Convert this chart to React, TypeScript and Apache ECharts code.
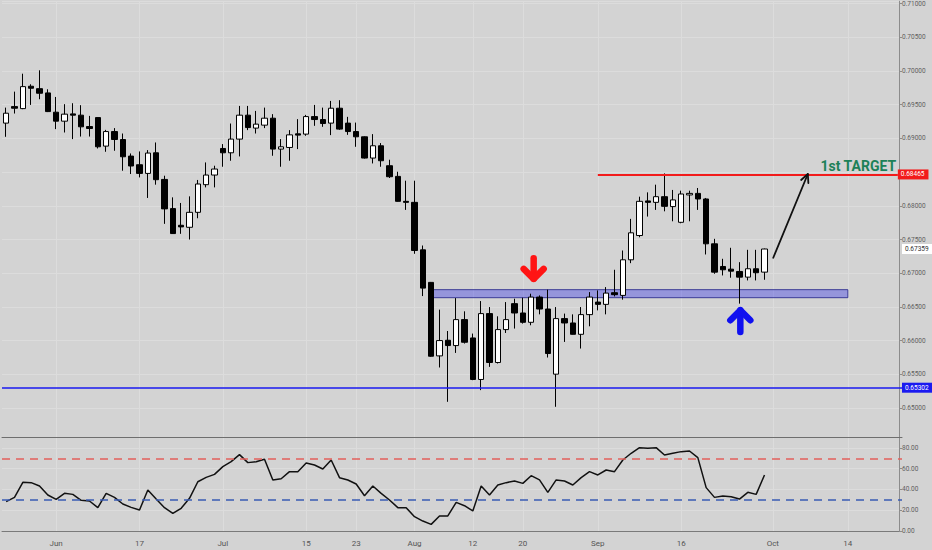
import React, { useEffect, useRef } from "react";
import * as echarts from "echarts";

// ---- Data (daily candles) ----
const opens = [
  0.69226, 0.69471, 0.69441, 0.69773, 0.69737, 0.69674, 0.69388, 0.69255, 0.69363, 0.69344,
  0.69175, 0.69308, 0.68885, 0.69101, 0.68983, 0.68737, 0.68609, 0.6848, 0.68786, 0.68391,
  0.67958, 0.67711, 0.67681, 0.67903, 0.68313, 0.68456, 0.6885, 0.68786, 0.68989, 0.69344,
  0.69152, 0.69196, 0.69299, 0.68841, 0.68865, 0.69067, 0.69063, 0.69323, 0.69279, 0.69226,
  0.69447, 0.69226, 0.69101, 0.69023, 0.68708, 0.6889, 0.68594, 0.68436, 0.68066, 0.68051,
  0.67347, 0.66864, 0.65774, 0.66006, 0.65927, 0.66312, 0.6604, 0.65424, 0.66401, 0.65676,
  0.66164, 0.66549, 0.6641, 0.66272, 0.66646, 0.66469, 0.65503, 0.66327, 0.66262, 0.66094,
  0.66386, 0.66572, 0.66538, 0.66711, 0.66671, 0.67199, 0.67559, 0.68072, 0.68051, 0.68135,
  0.67988, 0.67755, 0.68161, 0.68184, 0.68101, 0.67436, 0.671, 0.6706, 0.67026, 0.66942,
  0.67066, 0.67016,
];
const highs = [
  0.69456, 0.69693, 0.69959, 0.69802, 0.70009, 0.69728, 0.69614, 0.69507, 0.69521, 0.69492,
  0.69333, 0.6931, 0.69126, 0.69152, 0.69072, 0.68776, 0.68806, 0.68826, 0.68939, 0.68446,
  0.68125, 0.68042, 0.6814, 0.68383, 0.68643, 0.68594, 0.68915, 0.6922, 0.69481, 0.69481,
  0.69407, 0.69456, 0.69359, 0.68989, 0.69122, 0.69285, 0.69348, 0.69496, 0.69456, 0.69555,
  0.69566, 0.69319, 0.69234, 0.6903, 0.69063, 0.6893, 0.68683, 0.68505, 0.68372, 0.68372,
  0.67411, 0.6687, 0.6646, 0.66143, 0.66631, 0.66435, 0.66105, 0.66587, 0.66498, 0.66361,
  0.66572, 0.66622, 0.66637, 0.66696, 0.66671, 0.66756, 0.66498, 0.66401, 0.6639, 0.66498,
  0.6672, 0.66745, 0.66794, 0.67051, 0.67337, 0.67806, 0.68135, 0.68199, 0.68313, 0.6848,
  0.68235, 0.68224, 0.68224, 0.68264, 0.68116, 0.6751, 0.67214, 0.67377, 0.67164, 0.67347,
  0.67347, 0.67365,
];
const lows = [
  0.69023, 0.69368, 0.69433, 0.69496, 0.6958, 0.6939, 0.69137, 0.69087, 0.68989, 0.69027,
  0.69027, 0.6885, 0.68801, 0.68816, 0.6852, 0.68471, 0.68421, 0.68116, 0.68313, 0.67732,
  0.67584, 0.67584, 0.675, 0.67815, 0.68273, 0.68273, 0.68579, 0.68668, 0.68732, 0.69122,
  0.69072, 0.69152, 0.68742, 0.68579, 0.68668, 0.68841, 0.69038, 0.69186, 0.69171, 0.69048,
  0.69126, 0.69052, 0.68875, 0.687, 0.68628, 0.68579, 0.68412, 0.68062, 0.67939, 0.67288,
  0.66661, 0.6576, 0.65602, 0.65093, 0.65818, 0.65957, 0.65414, 0.65266, 0.65611, 0.65661,
  0.66114, 0.66179, 0.66253, 0.66228, 0.6639, 0.6575, 0.65019, 0.65981, 0.6609, 0.65883,
  0.66213, 0.66449, 0.6639, 0.66656, 0.66608, 0.67149, 0.67533, 0.6784, 0.67939, 0.67918,
  0.6777, 0.67741, 0.6777, 0.67939, 0.67278, 0.66992, 0.66967, 0.66933, 0.66549, 0.66893,
  0.66893, 0.66903,
];
const closes = [
  0.69373, 0.69447, 0.69767, 0.69743, 0.69669, 0.69397, 0.69255, 0.69359, 0.69344, 0.69171,
  0.69146, 0.68875, 0.69101, 0.68983, 0.68727, 0.6859, 0.6848, 0.68782, 0.68387, 0.67954,
  0.67588, 0.67687, 0.67903, 0.68323, 0.68456, 0.68545, 0.68786, 0.68989, 0.69344, 0.6916,
  0.69211, 0.69299, 0.68841, 0.68875, 0.69052, 0.69048, 0.69323, 0.69279, 0.6922, 0.69447,
  0.69137, 0.69101, 0.69023, 0.68708, 0.6889, 0.68668, 0.68431, 0.68066, 0.68051, 0.67337,
  0.66779, 0.65769, 0.66001, 0.65927, 0.66312, 0.65976, 0.65424, 0.66401, 0.65676, 0.66164,
  0.66312, 0.6641, 0.66272, 0.66646, 0.66469, 0.65809, 0.66327, 0.66262, 0.66094, 0.66386,
  0.66646, 0.66538, 0.66705, 0.66682, 0.67199, 0.67599, 0.68066, 0.68051, 0.68135, 0.67992,
  0.68087, 0.68175, 0.68184, 0.68101, 0.67436, 0.67016, 0.67051, 0.67031, 0.66942, 0.67066,
  0.67007, 0.67359,
];
const rsiValues = [
  28.3, 32.4, 46.9, 46.6, 43.4, 34.7, 30.5, 36.3, 35.3, 29.6,
  28.9, 22.5, 36.3, 32.4, 26.0, 22.8, 20.2, 39.5, 30.8, 22.5,
  17.0, 21.9, 31.5, 47.5, 51.7, 54.6, 62.0, 66.8, 73.6, 65.9,
  66.8, 69.1, 49.2, 50.4, 57.2, 57.2, 65.5, 63.6, 59.8, 68.4,
  51.4, 49.2, 45.3, 34.0, 43.4, 36.3, 29.9, 22.5, 22.5, 13.8,
  9.6, 6.4, 14.5, 14.5, 27.6, 24.4, 19.3, 43.4, 34.7, 44.3,
  46.6, 48.2, 45.9, 53.3, 49.2, 37.3, 49.2, 48.2, 44.3, 51.4,
  57.2, 54.0, 58.8, 57.2, 68.4, 74.9, 80.3, 79.7, 80.3, 73.3,
  74.9, 76.5, 77.1, 70.7, 41.8, 32.4, 33.7, 33.1, 30.8, 37.3,
  35.3, 54.0,
];
const tickLabels: [string, string][] = [
  ["2019-06-03", "Jun"], ["2019-06-17", "17"], ["2019-07-01", "Jul"], ["2019-07-15", "15"],
  ["2019-07-23", "23"], ["2019-08-01", "Aug"], ["2019-08-12", "12"], ["2019-08-20", "20"],
  ["2019-09-02", "Sep"], ["2019-09-16", "16"], ["2019-10-01", "Oct"], ["2019-10-14", "14"],
];
const startDate = "2019-05-24";
const totalSlots = 108;

const targetLevel = 0.68465;
const supportLevel = 0.65302;
const lastPrice = 0.67359;
const zoneTop = 0.66756;
const zoneBottom = 0.66637;
const zoneFrom = 51;
const zoneTo = 101;
const targetFrom = 71;
const rsiUpper = 70;
const rsiLower = 30;

// annotation anchors (data coordinates)
const redArrowAt = { idx: 63.3, top: 0.67271, bottom: 0.66868 };
const blueArrowAt = { idx: 88.1, top: 0.66498, bottom: 0.6608 };
const projFrom: [number, number] = [92.05, 0.67229];
const projTo: [number, number] = [96.2, 0.68471];
const targetTextAt: [number, number] = [106.8, targetLevel];

function tradingDays(start: string, n: number): string[] {
  const out: string[] = [];
  const d = new Date(start + "T00:00:00Z");
  while (out.length < n) {
    const wd = d.getUTCDay();
    if (wd !== 0 && wd !== 6) out.push(d.toISOString().slice(0, 10));
    d.setUTCDate(d.getUTCDate() + 1);
  }
  return out;
}

const categories = tradingDays(startDate, totalSlots);
const labelMap: Record<string, string> = Object.fromEntries(tickLabels);
const tickIdx = new Set(tickLabels.map(([d]) => categories.indexOf(d)));
const candleData = opens.map((o, i) => [o, closes[i], lows[i], highs[i]]);

const BG = "#d3d3d3";
const GRIDLINE = "#dcdcdc";
const FONT = 'Roboto, "Noto Sans", "Liberation Sans", sans-serif';

export default function App() {
  const ref = useRef<HTMLDivElement>(null);
  useEffect(() => {
    if (!ref.current) return;
    const chart = echarts.init(ref.current, undefined, { renderer: "svg" });
    const axisBox = (bg: string, fg: string, text: string) => ({
      show: true,
      position: "end",
      distance: 0,
      formatter: text,
      color: fg,
      backgroundColor: bg,
      padding: [2, 4, 1, 3],
      fontSize: 6.5,
      fontFamily: FONT,
    });
    const option: any = {
      animation: false,
      backgroundColor: BG,
      textStyle: { fontFamily: FONT },
      grid: [
        { left: 2, right: 30, top: 0, height: 437 },
        { left: 2, right: 30, top: 437, height: 94 },
      ],
      xAxis: [
        {
          type: "category",
          gridIndex: 0,
          data: categories,
          boundaryGap: true,
          axisLine: { show: true, lineStyle: { color: "#6e6e6e", width: 1 } },
          axisTick: { show: false },
          axisLabel: { show: false },
          splitLine: {
            show: true,
            alignWithLabel: true,
            interval: (i: number) => tickIdx.has(i),
            lineStyle: { color: GRIDLINE, width: 1 },
          },
        },
        {
          type: "category",
          gridIndex: 1,
          data: categories,
          boundaryGap: true,
          axisLine: { show: true, lineStyle: { color: "#7a7a7a", width: 1 } },
          axisTick: { show: false },
          axisLabel: {
            show: true,
            interval: (i: number) => tickIdx.has(i),
            formatter: (v: string) => labelMap[v] || "",
            color: "#555555",
            fontSize: 8,
            margin: 8,
          },
          splitLine: {
            show: true,
            alignWithLabel: true,
            interval: (i: number) => tickIdx.has(i),
            lineStyle: { color: GRIDLINE, width: 1 },
          },
        },
      ],
      yAxis: [
        {
          type: "value",
          gridIndex: 0,
          position: "right",
          offset: -3,
          scale: true,
          min: 0.64571,
          max: 0.71034,
          minInterval: 0.005,
          maxInterval: 0.005,
          axisLine: { show: true, lineStyle: { color: "#8c8c8c" } },
          axisTick: { show: true, length: 3, lineStyle: { color: "#8c8c8c" } },
          axisLabel: {
            color: "#5f5f5f",
            fontSize: 6.5,
            margin: 3,
            showMinLabel: false,
            showMaxLabel: false,
            // the target price box covers the neighbouring tick label
            formatter: (v: number) => (Math.abs(v - targetLevel) < 0.001 ? "" : v.toFixed(5)),
          },
          splitLine: { show: true, lineStyle: { color: GRIDLINE, width: 1 } },
        },
        {
          type: "value",
          gridIndex: 1,
          position: "right",
          offset: -3,
          min: 0,
          max: 90.6,
          minInterval: 20,
          maxInterval: 20,
          axisLine: { show: true, lineStyle: { color: "#8c8c8c" } },
          axisTick: { show: true, length: 3, lineStyle: { color: "#8c8c8c" } },
          axisLabel: {
            color: "#5f5f5f",
            fontSize: 6.5,
            margin: 3,
            showMaxLabel: false,
            formatter: (v: number) => v.toFixed(2),
          },
          splitLine: { show: true, lineStyle: { color: GRIDLINE, width: 1 } },
        },
      ],
      series: [
        {
          type: "candlestick",
          xAxisIndex: 0,
          yAxisIndex: 0,
          data: candleData,
          barWidth: 6,
          itemStyle: {
            color: "#ffffff",
            color0: "#000000",
            borderColor: "#000000",
            borderColor0: "#000000",
            borderWidth: 1,
          },
          markArea: {
            silent: true,
            itemStyle: {
              color: "rgba(58,58,233,0.40)",
              borderColor: "rgba(40,40,140,0.85)",
              borderWidth: 1,
            },
            data: [[{ coord: [zoneFrom, zoneTop] }, { coord: [zoneTo, zoneBottom] }]],
          },
          markLine: {
            silent: true,
            symbol: "none",
            precision: 5,
            data: [
              [
                {
                  coord: [targetFrom, targetLevel],
                  lineStyle: { color: "#f21b1b", width: 2, type: "solid" },
                  label: axisBox("#f21b1b", "#ffffff", targetLevel.toFixed(5)),
                },
                {
                  coord: [totalSlots - 1, targetLevel],
                  lineStyle: { color: "#f21b1b", width: 2, type: "solid" },
                },
              ],
              {
                yAxis: supportLevel,
                lineStyle: { color: "#1a1af0", width: 1.5, type: "solid" },
                label: axisBox("#1a1af0", "#ffffff", supportLevel.toFixed(5)),
              },
              {
                yAxis: lastPrice,
                lineStyle: { color: "rgba(0,0,0,0)", width: 1, type: "solid" },
                label: axisBox("#ffffff", "#333333", lastPrice.toFixed(5)),
              },
            ],
          },
        },
        {
          type: "line",
          xAxisIndex: 1,
          yAxisIndex: 1,
          data: rsiValues,
          symbol: "none",
          lineStyle: { color: "#111111", width: 1.5 },
          markLine: {
            silent: true,
            symbol: "none",
            label: { show: false },
            data: [
              { yAxis: rsiUpper, lineStyle: { color: "#e4605c", width: 1.5, type: [8, 6] } },
              { yAxis: rsiLower, lineStyle: { color: "#3a5cb4", width: 1.5, type: [8, 6] } },
            ],
          },
        },
      ],
    };
    chart.setOption(option);

    const px = (idx: number, price: number): number[] => {
      const i0 = Math.floor(idx);
      const f = idx - i0;
      const a = chart.convertToPixel({ xAxisIndex: 0, yAxisIndex: 0 }, [i0, price]) as number[];
      if (f === 0) return a;
      const b = chart.convertToPixel({ xAxisIndex: 0, yAxisIndex: 0 }, [i0 + 1, price]) as number[];
      return [a[0] + (b[0] - a[0]) * f, a[1]];
    };

    const thickArrow = (at: { idx: number; top: number; bottom: number }, dir: "up" | "down", color: string) => {
      const a = px(at.idx, at.top);
      const b = px(at.idx, at.bottom);
      const x = a[0];
      const w = 6.5;
      const h = w / 2;
      const head = 10;
      const yTop = a[1] + h;
      const yBot = b[1] - h;
      const tipY = dir === "down" ? yBot : yTop;
      const wingY = dir === "down" ? tipY - head : tipY + head;
      const st = { stroke: color, lineWidth: w, lineCap: "round", lineJoin: "round", fill: null };
      return [
        { type: "line", silent: true, z: 100, shape: { x1: x, y1: yTop, x2: x, y2: yBot }, style: st },
        {
          type: "polyline",
          silent: true,
          z: 100,
          shape: { points: [[x - head, wingY], [x, tipY], [x + head, wingY]] },
          style: st,
        },
      ];
    };

    const p1 = px(projFrom[0], projFrom[1]);
    const p2 = px(projTo[0], projTo[1]);
    const ang = Math.atan2(p1[1] - p2[1], p1[0] - p2[0]);
    const hl = 9;
    const spread = 0.45;
    const w1 = [p2[0] + hl * Math.cos(ang + spread), p2[1] + hl * Math.sin(ang + spread)];
    const w2 = [p2[0] + hl * Math.cos(ang - spread), p2[1] + hl * Math.sin(ang - spread)];
    const tt = px(targetTextAt[0], targetTextAt[1]);

    chart.setOption({
      graphic: [
        ...thickArrow(redArrowAt, "down", "#ff1414"),
        ...thickArrow(blueArrowAt, "up", "#1010f0"),
        {
          type: "line",
          silent: true,
          z: 100,
          shape: { x1: p1[0], y1: p1[1], x2: p2[0], y2: p2[1] },
          style: { stroke: "#111111", lineWidth: 1.8, lineCap: "round" },
        },
        {
          type: "polyline",
          silent: true,
          z: 100,
          shape: { points: [w1, [p2[0], p2[1]], w2] },
          style: { stroke: "#111111", lineWidth: 1.8, lineCap: "round", lineJoin: "round", fill: null },
        },
        {
          type: "text",
          silent: true,
          z: 100,
          x: tt[0],
          y: tt[1] - 1,
          style: {
            text: "1st TARGET",
            align: "right",
            verticalAlign: "bottom",
            fontSize: 14,
            fontWeight: "bold",
            fontFamily: FONT,
            fill: "#1d8158",
          },
        },
      ],
    });

    return () => chart.dispose();
  }, []);
  return <div ref={ref} style={{ position: "fixed", left: 0, top: 0, width: 932, height: 550 }} />;
}
